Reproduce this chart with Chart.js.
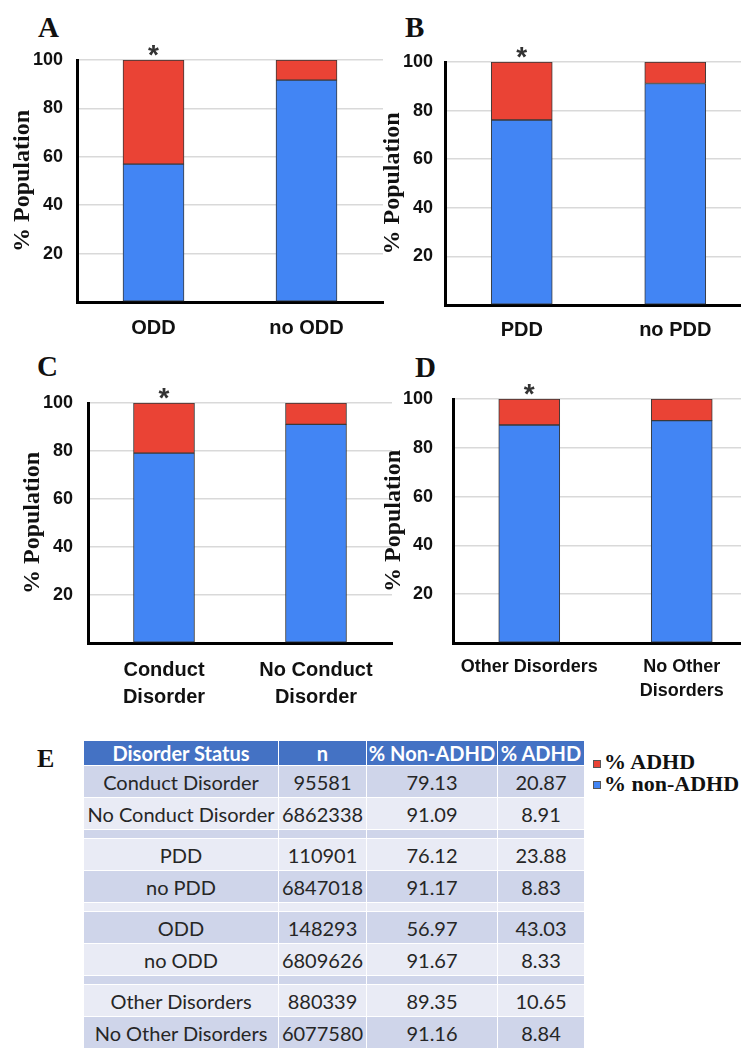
<!DOCTYPE html>
<html>
<head>
<meta charset="utf-8">
<script src="https://cdn.jsdelivr.net/npm/chart.js@4"></script>
<style>
	html, body { margin: 0; padding: 0; background: #fff; overflow: hidden; }
	body { width: 741px; height: 1050px; position: relative; }
	.panel { position: absolute; }
	.letter { position: absolute; font: bold 29px "Liberation Serif"; line-height: 1; color: #111; }
	.data-table { position: absolute; left: 83px; top: 740px; border-collapse: collapse; font-family: Lato, sans-serif; font-size: 20px; color: #262626; }
	.data-table td, .data-table th { border: 1.5px solid #fff; text-align: center; padding: 0; white-space: nowrap; }
	.data-table th { background: #4472c4; color: #fff; font-weight: bold; height: 24px; }
	.data-table td { height: 31px; }
	.data-table tr.dark td { background: #cfd5ea; }
	.data-table tr.light td { background: #e9ebf5; }
	.data-table tr.spacer td { height: 8px; }
	.legend-box { position: absolute; left: 593px; width: 8px; height: 8px; box-sizing: border-box; border: 1px solid #555; }
	.legend-text { position: absolute; left: 604px; font: bold 22px "Liberation Serif"; line-height: 1; color: #111; white-space: nowrap; }
</style>
</head>
<body>
<div class="letter" style="left:38px;top:13px">A</div>
<div class="letter" style="left:405px;top:13px">B</div>
<div class="letter" style="left:37px;top:352px">C</div>
<div class="letter" style="left:415px;top:353px">D</div>
<div class="letter" style="left:37px;top:746px;font-size:26px">E</div>

<div class="panel" style="left:0px;top:0px;width:390px;height:350px"><canvas class="chart-a"></canvas></div>
<div class="panel" style="left:370px;top:0px;width:390px;height:353px"><canvas class="chart-b"></canvas></div>
<div class="panel" style="left:0px;top:340px;width:400px;height:373px"><canvas class="chart-c"></canvas></div>
<div class="panel" style="left:370px;top:340px;width:400px;height:373px"><canvas class="chart-d"></canvas></div>

<table class="data-table"></table>

<div class="legend-box" style="top:760px;background:#ea4335"></div>
<div class="legend-text" style="top:751px">% ADHD</div>
<div class="legend-box" style="top:781px;background:#4285f4"></div>
<div class="legend-text" style="top:773px">% non-ADHD</div>

<script>
// data per panel (% of population)
const oddLabels = ["ODD", "no ODD"];
const oddNonAdhd = [56.97, 91.67];
const oddAdhd = [43.03, 8.33];

const pddLabels = ["PDD", "no PDD"];
const pddNonAdhd = [76.12, 91.17];
const pddAdhd = [23.88, 8.83];

const conductLabels = [["Conduct", "Disorder"], ["No Conduct", "Disorder"]];
const conductNonAdhd = [79.13, 91.09];
const conductAdhd = [20.87, 8.91];

const otherLabels = ["Other Disorders", ["No Other", "Disorders"]];
const otherNonAdhd = [89.35, 91.16];
const otherAdhd = [10.65, 8.84];

const yTicks = [20, 40, 60, 80, 100];

// table E
const tableHeader = ["Disorder Status", "n", "% Non-ADHD", "% ADHD"];
const tableStatus = ["Conduct Disorder", "No Conduct Disorder", "PDD", "no PDD", "ODD", "no ODD", "Other Disorders", "No Other Disorders"];
const tableN = ["95581", "6862338", "110901", "6847018", "148293", "6809626", "880339", "6077580"];
const tableNonAdhd = ["79.13", "91.09", "76.12", "91.17", "56.97", "91.67", "89.35", "91.16"];
const tableAdhd = ["20.87", "8.91", "23.88", "8.83", "43.03", "8.33", "10.65", "8.84"];

const red = "#ea4335";
const blue = "#4285f4";

Chart.defaults.font.family = "Liberation Sans";
Chart.defaults.color = "#111";
Chart.defaults.animation = false;

const starPlugin = {
	id: "star",
	afterDraw(chart, args, opts) {
		const ctx = chart.ctx;
		const x = chart.scales.x.getPixelForValue(opts.index);
		ctx.save();
		ctx.font = "bold 28px 'Liberation Sans'";
		ctx.fillStyle = "#333";
		ctx.textAlign = "center";
		ctx.textBaseline = "alphabetic";
		ctx.fillText("*", x, chart.chartArea.top + opts.offset);
		ctx.restore();
	},
};

createPanel(document.querySelector(".chart-a"), oddLabels, oddNonAdhd, oddAdhd,
	{ top: 60, padRight: 7, axisWidth: 77, titlePad: 8, tickPad: 14, xHeight: 48, xPad: 14, xFont: 20, xLine: 1.2 });
createPanel(document.querySelector(".chart-b"), pddLabels, pddNonAdhd, pddAdhd,
	{ top: 62, padRight: 8, axisWidth: 75, titlePad: 8, tickPad: 12, xHeight: 48, xPad: 13, xFont: 20, xLine: 1.2 });
createPanel(document.querySelector(".chart-c"), conductLabels, conductNonAdhd, conductAdhd,
	{ top: 63, padRight: 8, axisWidth: 88, titlePad: 18, tickPad: 15, xHeight: 70, xPad: 14, xFont: 20, xLine: 1.35 });
createPanel(document.querySelector(".chart-d"), otherLabels, otherNonAdhd, otherAdhd,
	{ top: 59, padRight: 12, axisWidth: 83, titlePad: 9, tickPad: 20, xHeight: 70, xPad: 13, xFont: 18, xLine: 1.28 });

function createPanel(canvasElement, labels, nonAdhd, adhd, lay) {
	new Chart(canvasElement, {
		type: "bar",
		data: {
			labels: labels,
			datasets: [
				{
					label: "% non-ADHD",
					data: nonAdhd,
					backgroundColor: blue,
					borderColor: "#3a3a3a",
					borderWidth: 1,
					borderSkipped: false,
					barThickness: 61,
				},
				{
					label: "% ADHD",
					data: adhd,
					backgroundColor: red,
					borderColor: "#3a3a3a",
					borderWidth: 1,
					borderSkipped: false,
					barThickness: 61,
				},
			],
		},
		options: {
			responsive: true,
			maintainAspectRatio: false,
			layout: { padding: { top: lay.top, right: lay.padRight, left: 0, bottom: 0 } },
			plugins: {
				legend: { display: false },
				tooltip: { enabled: false },
				star: { index: 0, offset: 4 },
			},
			scales: {
				x: {
					stacked: true,
					grid: { display: false, drawTicks: false },
					border: { color: "#000", width: 3 },
					ticks: {
						padding: lay.xPad,
						maxRotation: 0,
						autoSkip: false,
						font: { size: lay.xFont, weight: "bold", lineHeight: lay.xLine },
					},
					afterFit: (scale) => { scale.height = lay.xHeight; },
				},
				y: {
					stacked: true,
					min: 0,
					max: 100,
					afterBuildTicks: (scale) => {
						scale.ticks = [0].concat(yTicks).map((v) => ({ value: v }));
					},
					grid: { color: "#d9d9d9", lineWidth: 1.5, drawTicks: false },
					border: { color: "#000", width: 3 },
					ticks: {
						padding: lay.tickPad,
						font: { size: 18, weight: "bold" },
						callback: (v) => (v === 0 ? "" : v),
					},
					title: {
						display: true,
						text: "% Population",
						font: { family: "Liberation Serif", size: 24, weight: "bold" },
						padding: { top: lay.titlePad, bottom: 0 },
					},
					afterFit: (scale) => { scale.width = lay.axisWidth; },
				},
			},
		},
		plugins: [starPlugin],
	});
}

buildTable(document.querySelector(".data-table"));

function buildTable(table) {
	const head = document.createElement("tr");
	tableHeader.forEach((h) => {
		const th = document.createElement("th");
		th.textContent = h;
		head.appendChild(th);
	});
	table.appendChild(head);

	const widths = [194, 87, 130, 86];
	widths.forEach((w, i) => { head.children[i].style.width = w + "px"; });

	let shade = 0;
	for (let i = 0; i < tableStatus.length; i++) {
		if (i > 0 && i % 2 === 0) {
			const sp = document.createElement("tr");
			sp.className = "spacer " + (shade % 2 === 0 ? "dark" : "light");
			shade++;
			for (let c = 0; c < 4; c++) sp.appendChild(document.createElement("td"));
			table.appendChild(sp);
		}
		const tr = document.createElement("tr");
		tr.className = shade % 2 === 0 ? "dark" : "light";
		shade++;
		[tableStatus[i], tableN[i], tableNonAdhd[i], tableAdhd[i]].forEach((txt) => {
			const td = document.createElement("td");
			td.textContent = txt;
			tr.appendChild(td);
		});
		table.appendChild(tr);
	}
}
</script>
</body>
</html>
